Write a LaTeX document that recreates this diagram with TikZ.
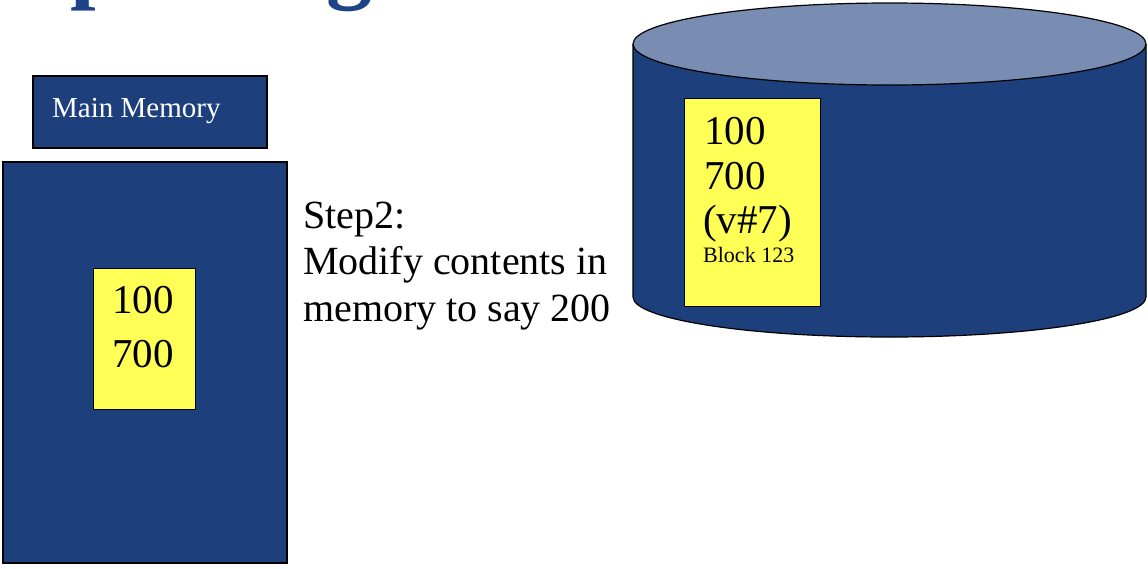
\documentclass[tikz,border=0pt]{standalone}
\usepackage{fontspec}
\setmainfont{Liberation Serif}
\usepackage{tikz}
\definecolor{memblue}{RGB}{29,64,125}
\definecolor{disktop}{RGB}{121,140,178}
\definecolor{noteyellow}{RGB}{255,255,85}
\definecolor{titleblue}{RGB}{31,67,135}
\tikzstyle{bluebox}=[rectangle,draw=black,fill=memblue,line width=1.2pt,inner sep=0pt]
\tikzstyle{yellowbox}=[rectangle,draw=black,fill=noteyellow,line width=1pt,inner sep=0pt]
\tikzstyle{bignum}=[font=\fontsize{41}{45}\selectfont,inner sep=0pt]
\tikzstyle{smalltag}=[font=\fontsize{22}{24}\selectfont,inner sep=0pt]
\tikzstyle{steptext}=[font=\fontsize{40}{46}\selectfont,inner sep=0pt]
\tikzstyle{memlabel}=[font=\fontsize{29}{32}\selectfont,text=white,inner sep=0pt]
\tikzstyle{slidetitle}=[font=\fontsize{92}{100}\selectfont\bfseries,text=titleblue,inner sep=0pt]

\begin{document}
\begin{tikzpicture}[x=1pt,y=-1pt]
    \useasboundingbox (0,0) rectangle (1148,568);
    \clip (0,0) rectangle (1148,568);
    \node[slidetitle,anchor=base west] (title) at (4,-9) {Updating disk block};

    % main memory
    \node[bluebox,minimum width=234,minimum height=72] (mmbox) at (150,112) {};
    \node[memlabel,anchor=base west] (mmtext) at (52,117) {Main Memory};
    \node[bluebox,minimum width=284,minimum height=401] (mem) at (145,362.5) {};
    \node[yellowbox,minimum width=102,minimum height=141] (memblk) at (144,338.5) {};
    \node[bignum,anchor=base] (mem100) at (143,313) {100};
    \node[bignum,anchor=base] (mem700) at (143,367) {700};

    % step text
    \foreach \txt [count=\i] in {Step2:,Modify contents in,memory to say 200}
    \node[steptext,anchor=base west] (step\i) at (303,181.5+46.5*\i) {\txt};

    % disk
    \filldraw[fill=memblue,draw=black,line width=1.2pt] (633,44) -- (633,297)
        arc[start angle=180,end angle=0,x radius=256.5,y radius=40] -- (1146,44);
    \filldraw[fill=disktop,draw=black,line width=1.2pt] (889.5,44) ellipse [x radius=256.5,y radius=41];
    \node[yellowbox,minimum width=136,minimum height=208] (diskblk) at (752,202) {};
    \node[bignum,anchor=base west] (disk100) at (704,144) {100};
    \node[bignum,anchor=base west] (disk700) at (704,189) {700};
    \node[bignum,anchor=base west] (diskver) at (703,233) {(v\#7)};
    \node[smalltag,anchor=base west] (disktag) at (703,262) {Block 123};
\end{tikzpicture}
\end{document}
